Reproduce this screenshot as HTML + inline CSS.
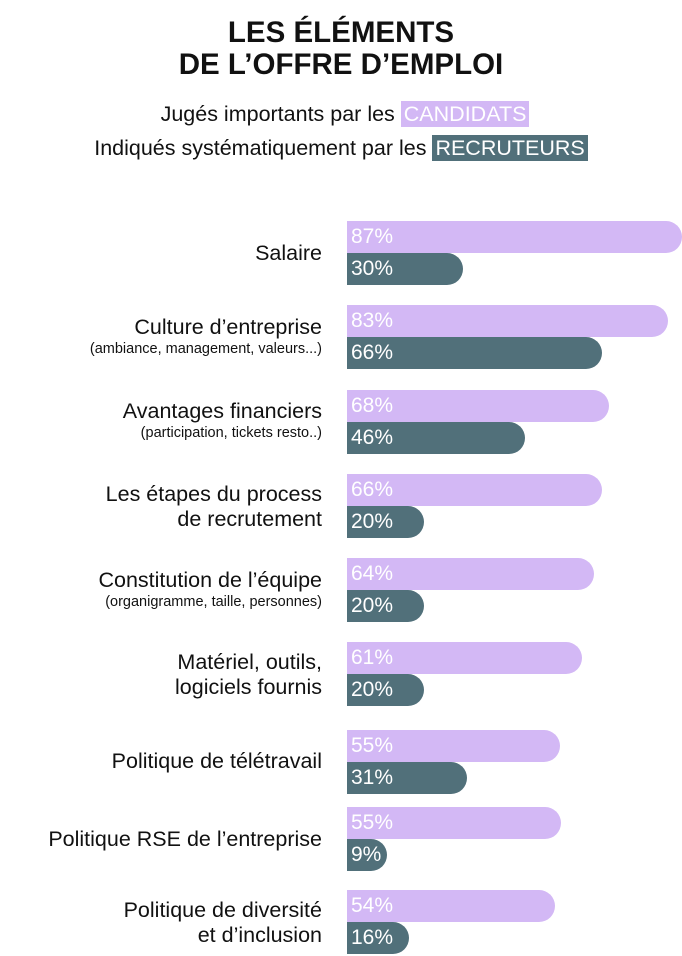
<!DOCTYPE html>
<html><head><meta charset="utf-8"><style>
body{margin:0;width:682px;height:956px;background:#fff;position:relative;overflow:hidden;font-family:"Liberation Sans",sans-serif;color:#111}
.t{position:absolute;left:0;width:682px;text-align:center;font-weight:bold;font-size:29.5px;line-height:32px}
.s{position:absolute;left:0;width:682px;text-align:center;font-size:21.5px;white-space:nowrap}
.hl{color:#fff;padding:1px 3px}
.lab{position:absolute;right:360px;text-align:right;font-size:21.5px;line-height:25px;white-space:nowrap}
.lab small{font-size:14.5px;display:block;line-height:18px}
.bar{position:absolute;left:347px;height:32px;border-radius:0 16px 16px 0;color:#fff;font-size:21px;line-height:32px;padding-left:4px;box-sizing:border-box}
.p{background:#d3b8f5}.d{background:#51707a}
</style></head><body>
<div class="t" style="top:17px">LES ÉLÉMENTS</div>
<div class="t" style="top:49px">DE L’OFFRE D’EMPLOI</div>
<div class="s" style="top:102px;padding-left:4px">Jugés importants par les <span class="hl" style="background:#d3b8f5">CANDIDATS</span></div>
<div class="s" style="top:136px">Indiqués systématiquement par les <span class="hl" style="background:#51707a">RECRUTEURS</span></div>

<div class="lab" style="top:241px">Salaire</div>
<div class="bar p" style="top:221px;width:335px">87%</div>
<div class="bar d" style="top:253px;width:116px">30%</div>

<div class="lab" style="top:315px">Culture d’entreprise<small>(ambiance, management, valeurs...)</small></div>
<div class="bar p" style="top:305px;width:321px">83%</div>
<div class="bar d" style="top:337px;width:255px">66%</div>

<div class="lab" style="top:399px">Avantages financiers<small>(participation, tickets resto..)</small></div>
<div class="bar p" style="top:390px;width:262px">68%</div>
<div class="bar d" style="top:422px;width:178px">46%</div>

<div class="lab" style="top:482px">Les étapes du process<br>de recrutement</div>
<div class="bar p" style="top:474px;width:255px">66%</div>
<div class="bar d" style="top:506px;width:77px">20%</div>

<div class="lab" style="top:568px">Constitution de l’équipe<small>(organigramme, taille, personnes)</small></div>
<div class="bar p" style="top:558px;width:247px">64%</div>
<div class="bar d" style="top:590px;width:77px">20%</div>

<div class="lab" style="top:650px">Matériel, outils,<br>logiciels fournis</div>
<div class="bar p" style="top:642px;width:235px">61%</div>
<div class="bar d" style="top:674px;width:77px">20%</div>

<div class="lab" style="top:749px">Politique de télétravail</div>
<div class="bar p" style="top:730px;width:213px">55%</div>
<div class="bar d" style="top:762px;width:120px">31%</div>

<div class="lab" style="top:827px">Politique RSE de l’entreprise</div>
<div class="bar p" style="top:807px;width:214px">55%</div>
<div class="bar d" style="top:839px;width:40px">9%</div>

<div class="lab" style="top:898px">Politique de diversité<br>et d’inclusion</div>
<div class="bar p" style="top:890px;width:208px">54%</div>
<div class="bar d" style="top:922px;width:62px">16%</div>
</body></html>
